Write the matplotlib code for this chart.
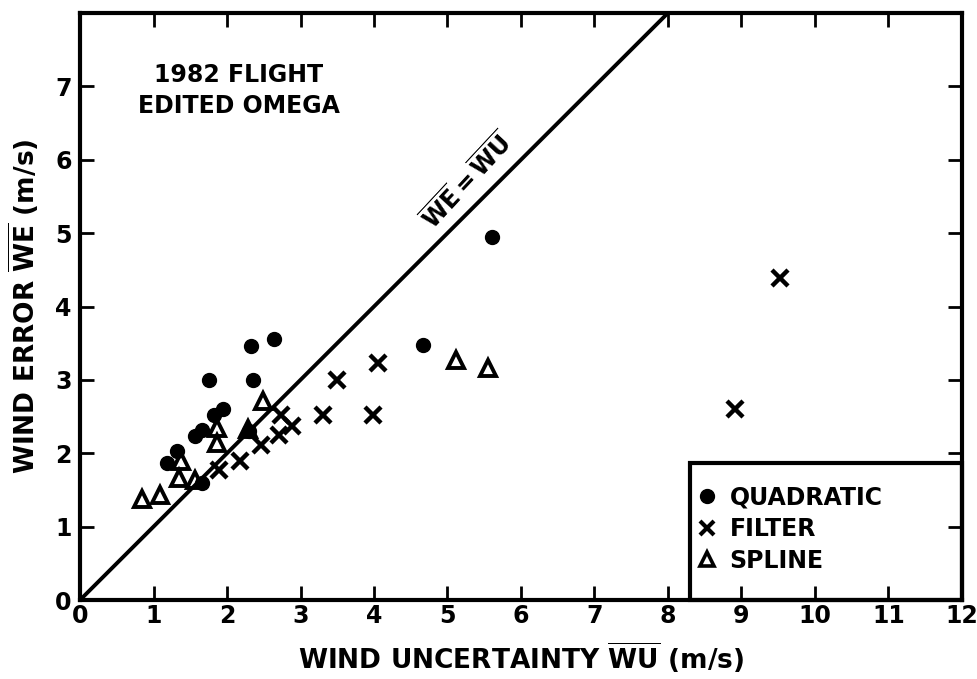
import matplotlib
matplotlib.use("Agg")
import matplotlib.pyplot as plt
from matplotlib.patches import Rectangle
from matplotlib.lines import Line2D

plt.rcParams['font.family'] = ['DejaVu Sans']
plt.rcParams['font.weight'] = 'bold'
plt.rcParams['axes.labelweight'] = 'bold'
plt.rcParams['mathtext.fontset'] = 'custom'
plt.rcParams['mathtext.rm'] = 'DejaVu Sans:bold'
plt.rcParams['mathtext.it'] = 'DejaVu Sans:bold'
plt.rcParams['mathtext.bf'] = 'DejaVu Sans:bold'

# Wind uncertainty (x) vs wind error (y), m/s
quad_wu = [1.18, 1.32, 1.57, 1.66, 1.66, 1.76, 1.82, 1.94, 2.30, 2.33, 2.36, 2.64, 4.67, 5.61]
quad_we = [1.87, 2.03, 2.24, 2.32, 1.60, 3.00, 2.52, 2.60, 2.30, 3.46, 3.00, 3.56, 3.47, 4.95]

filt_wu = [1.89, 2.18, 2.46, 2.71, 2.74, 2.88, 3.31, 3.49, 3.99, 4.06, 8.91, 9.53]
filt_we = [1.77, 1.89, 2.11, 2.25, 2.52, 2.37, 2.52, 3.00, 2.52, 3.23, 2.60, 4.39]

spl_wu = [0.84, 1.09, 1.35, 1.37, 1.57, 1.87, 1.87, 2.28, 2.49, 5.11, 5.55]
spl_we = [1.38, 1.43, 1.66, 1.90, 1.64, 2.14, 2.34, 2.33, 2.71, 3.27, 3.16]

x_ticks = list(range(0, 13))
y_ticks = list(range(0, 8))
y_tick_labels = ['0', '1', '2', '3', '4', '5', '6', '7']

fig = plt.figure(figsize=(9.77, 6.79), dpi=100)
ax = fig.add_axes([0.0819, 0.1163, 0.9027, 0.8646])

ax.set_xlim(0, 12)
ax.set_ylim(0, 8)

# identity line WE = WU
ax.plot([0, 8], [0, 8], color='black', lw=2.8, zorder=2)

ax.plot(quad_wu, quad_we, 'o', ms=10, color='black', zorder=3)
ax.plot(filt_wu, filt_we, 'x', ms=11, mew=3.2, color='black', zorder=3)
ax.plot(spl_wu, spl_we, '^', ms=11, mew=2.8, mfc='none', mec='black', zorder=4)

ax.set_xticks(x_ticks)
ax.set_xticklabels([str(t) for t in x_ticks])
ax.set_yticks(y_ticks)
ax.set_yticklabels(y_tick_labels)
ax.tick_params(axis='both', which='both', direction='in', length=10, width=2,
               top=True, right=True, labelsize=17)
ax.tick_params(axis='x', pad=3)
ax.tick_params(axis='y', pad=6)
for s in ax.spines.values():
    s.set_linewidth(3)

ax.set_xlabel(r'WIND UNCERTAINTY $\overline{\mathrm{WU}}$ (m/s)', fontsize=19, labelpad=9)
ax.set_ylabel(r'WIND ERROR $\overline{\mathrm{WE}}$ (m/s)', fontsize=19, labelpad=10)

ax.text(2.16, 6.94, '1982 FLIGHT\nEDITED OMEGA', fontsize=17, ha='center', va='center',
        linespacing=1.35)

ax.text(5.28, 5.70, r'$\overline{\mathrm{WE}}=\overline{\mathrm{WU}}$', fontsize=17,
        rotation=47, rotation_mode='anchor', ha='center', va='center')

# legend box in the lower right corner
ax.add_patch(Rectangle((8.3, 0), 3.7, 1.87, fill=False, lw=3, ec='black', zorder=5,
                       clip_on=False))
handles = [
    Line2D([], [], ls='none', marker='o', ms=10, color='black'),
    Line2D([], [], ls='none', marker='x', ms=10, mew=3, color='black'),
    Line2D([], [], ls='none', marker='^', ms=10, mew=2.6, mfc='none', mec='black'),
]
ax.legend(handles, ['QUADRATIC', 'FILTER', 'SPLINE'], loc='upper left',
          bbox_to_anchor=(0.687, 0.215), frameon=False, fontsize=17,
          handlelength=0.8, handletextpad=0.55, labelspacing=0.32, borderpad=0)

fig.savefig('out.png', dpi=100)
